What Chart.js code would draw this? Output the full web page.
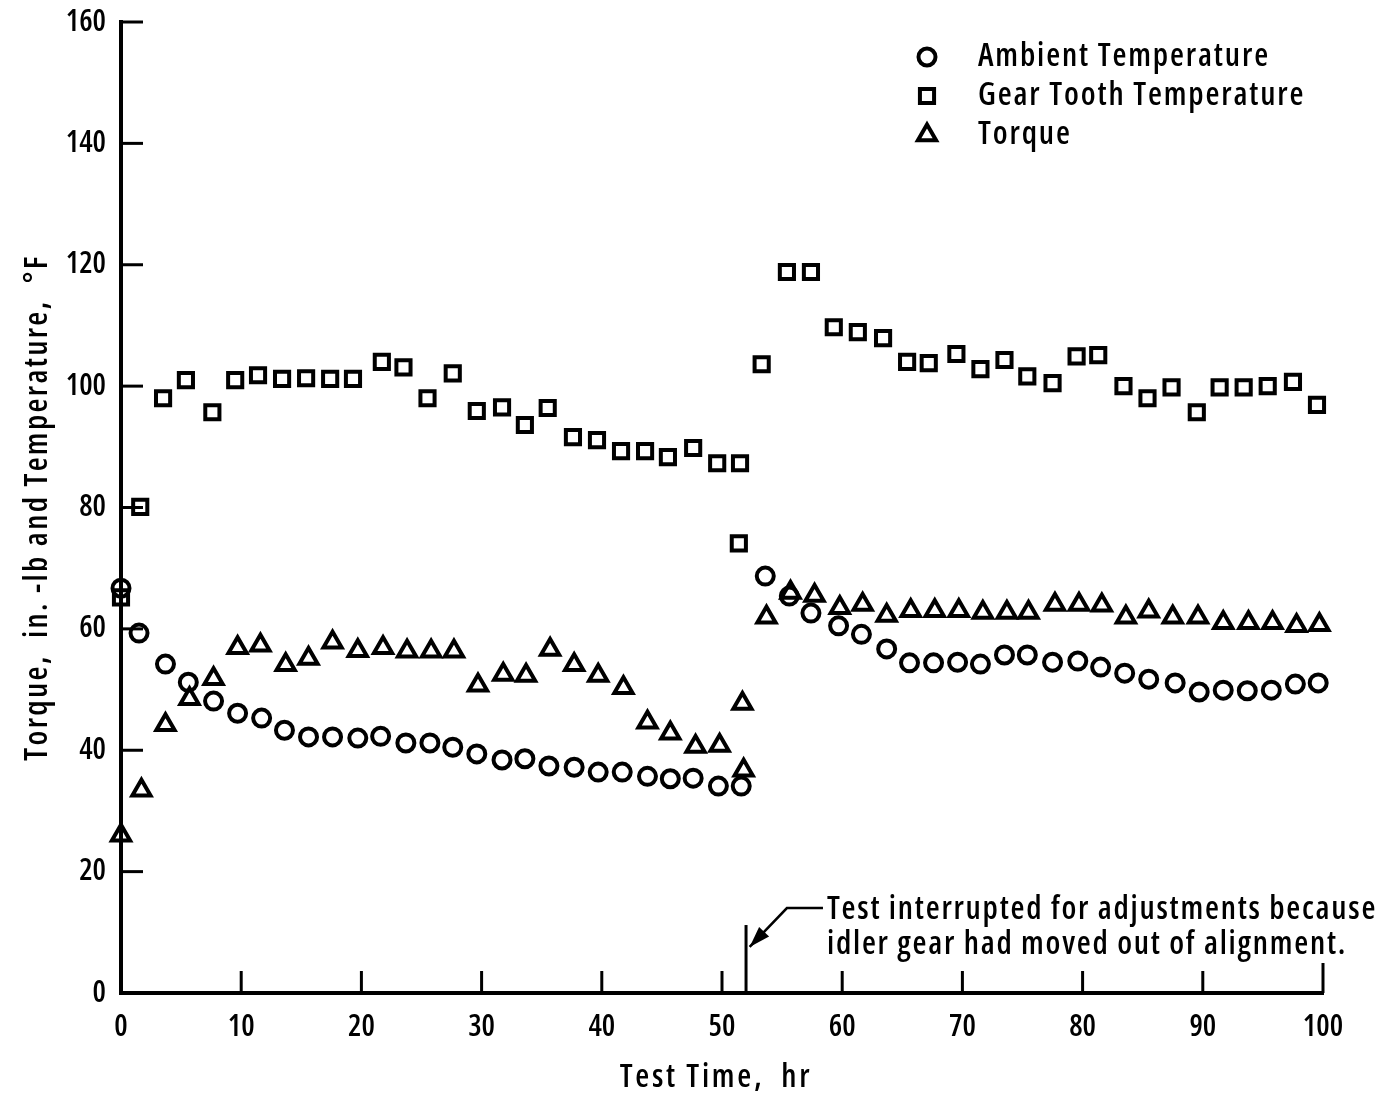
<!DOCTYPE html>
<html>
<head>
<meta charset="utf-8">
<script src="https://cdn.jsdelivr.net/npm/chart.js@4.4.0/dist/chart.umd.min.js"></script>
<style>
  html, body { margin: 0; padding: 0; background: #fff; }
</style>
</head>
<body>
<canvas id="chart" width="1385" height="1099"></canvas>
<script>
// test time, hr and readings for each series
const ambientX = [0, 1.5, 3.7, 5.6, 7.7, 9.7, 11.7, 13.6, 15.6, 17.6, 19.7, 21.6, 23.7, 25.7, 27.6, 29.6, 31.7, 33.6, 35.6, 37.7, 39.7, 41.7, 43.8, 45.7, 47.6, 49.7, 51.6,
                  53.6, 55.6, 57.4, 59.7, 61.6, 63.7, 65.6, 67.6, 69.6, 71.5, 73.5, 75.4, 77.5, 79.6, 81.5, 83.5, 85.5, 87.7, 89.7, 91.7, 93.7, 95.7, 97.7, 99.6];
const ambientY = [66.7, 59.3, 54.2, 51.2, 48.1, 46.1, 45.3, 43.3, 42.2, 42.2, 42.0, 42.3, 41.2, 41.2, 40.5, 39.4, 38.4, 38.6, 37.4, 37.2, 36.4, 36.4, 35.7, 35.3, 35.4, 34.1, 34.1,
                  68.7, 65.4, 62.6, 60.5, 59.1, 56.7, 54.4, 54.4, 54.5, 54.2, 55.7, 55.7, 54.5, 54.7, 53.7, 52.7, 51.7, 51.1, 49.6, 49.9, 49.8, 49.9, 50.9, 51.1];

const gearX = [0, 1.6, 3.5, 5.4, 7.6, 9.5, 11.4, 13.4, 15.4, 17.4, 19.3, 21.7, 23.5, 25.5, 27.6, 29.6, 31.7, 33.6, 35.5, 37.6, 39.6, 41.6, 43.6, 45.5, 47.6, 49.6, 51.5, 51.4,
               53.3, 55.4, 57.4, 59.3, 61.3, 63.4, 65.4, 67.2, 69.5, 71.5, 73.5, 75.4, 77.5, 79.5, 81.3, 83.4, 85.4, 87.4, 89.5, 91.4, 93.4, 95.4, 97.5, 99.5];
const gearY = [65.2, 80.1, 98.0, 101.0, 95.7, 101.0, 101.8, 101.2, 101.3, 101.2, 101.2, 104.0, 103.1, 98.0, 102.1, 95.9, 96.5, 93.6, 96.4, 91.6, 91.1, 89.3, 89.3, 88.3, 89.8, 87.3, 87.3, 74.1,
               103.6, 118.8, 118.8, 109.7, 108.9, 107.9, 104.0, 103.8, 105.3, 102.8, 104.3, 101.6, 100.5, 104.9, 105.1, 100.0, 98.0, 99.8, 95.7, 99.8, 99.8, 100.0, 100.7, 96.9];

const torqueX = [0, 1.7, 3.7, 5.7, 7.7, 9.7, 11.6, 13.7, 15.6, 17.6, 19.7, 21.8, 23.8, 25.8, 27.7, 29.7, 31.8, 33.7, 35.7, 37.7, 39.7, 41.8, 43.8, 45.7, 47.8, 49.8, 51.7, 51.8,
                 53.7, 55.7, 57.7, 59.8, 61.7, 63.7, 65.7, 67.7, 69.7, 71.7, 73.7, 75.5, 77.7, 79.7, 81.6, 83.6, 85.5, 87.5, 89.6, 91.7, 93.8, 95.8, 97.8, 99.7];
const torqueY = [26.0, 33.4, 44.2, 48.5, 51.8, 56.9, 57.3, 54.1, 55.1, 57.8, 56.4, 56.9, 56.3, 56.3, 56.3, 50.7, 52.5, 52.3, 56.6, 54.1, 52.3, 50.3, 44.6, 42.8, 40.6, 40.8, 47.7, 36.7,
                 61.9, 66.0, 65.5, 63.5, 64.0, 62.2, 63.0, 63.0, 63.0, 62.7, 62.7, 62.7, 64.0, 64.0, 63.9, 61.9, 62.9, 61.9, 61.9, 61.0, 61.0, 61.0, 60.5, 60.7];

const seriesNames = ['Ambient Temperature', 'Gear Tooth Temperature', 'Torque'];
const xTicks = [0, 10, 20, 30, 40, 50, 60, 70, 80, 90, 100];
const yTicks = [0, 20, 40, 60, 80, 100, 120, 140, 160];
const xTitle = 'Test Time,  hr';
const yTitle = 'Torque,  in. -lb and Temperature,  °F';
const interruptAt = 52;
const noteLines = ['Test interrupted for adjustments because', 'idler gear had moved out of alignment.'];

const FAMILY = '"Open Sans", "Liberation Sans", sans-serif';
// 'condensed' rides along with the weight so the canvas font string picks the narrow face
const WEIGHT = 'condensed 600';
const TEXTFONT = WEIGHT + ' 32px ' + FAMILY;

function pts(xs, ys) {
    return xs.map((x, i) => ({ x: x, y: ys[i] }));
}

const markerStyles = [
    { pointStyle: 'circle', radius: 8.5 },
    { pointStyle: 'rect', radius: 10 },
    { pointStyle: 'triangle', radius: 10.5 }
];

const whiteBg = {
    id: 'whiteBg',
    beforeDraw(chart) {
        const ctx = chart.ctx;
        ctx.save();
        ctx.fillStyle = '#fff';
        ctx.fillRect(0, 0, chart.width, chart.height);
        ctx.restore();
    }
};

// the lettering on the original is narrow but widely tracked
function spacedText(ctx, text, x, y, spacing) {
    ctx.letterSpacing = spacing + 'px';
    ctx.fillText(text, x, y);
    ctx.letterSpacing = '0px';
}

// tick marks drawn inward from the axes, axis titles, the interruption note and the legend
const extras = {
    id: 'extras',
    afterDraw(chart) {
        const ctx = chart.ctx;
        const xs = chart.scales.x;
        const ys = chart.scales.y;
        const area = chart.chartArea;
        ctx.save();
        ctx.strokeStyle = '#000';
        ctx.fillStyle = '#000';
        ctx.lineWidth = 3;
        ctx.lineCap = 'butt';

        yTicks.forEach(v => {
            if (v === 0) return;
            const y = ys.getPixelForValue(v);
            ctx.beginPath();
            ctx.moveTo(area.left, y);
            ctx.lineTo(area.left + 22, y);
            ctx.stroke();
        });
        xTicks.forEach(v => {
            if (v === 0) return;
            const x = xs.getPixelForValue(v);
            ctx.beginPath();
            ctx.moveTo(x, area.bottom);
            ctx.lineTo(x, area.bottom - (v === 100 ? 30 : 22));
            ctx.stroke();
        });

        // axis titles
        ctx.font = TEXTFONT;
        ctx.textAlign = 'center';
        ctx.textBaseline = 'middle';
        spacedText(ctx, xTitle, (area.left + area.right) / 2 - 6, area.bottom + 85, 2.7);
        ctx.save();
        ctx.translate(38, (area.top + area.bottom) / 2);
        ctx.rotate(-Math.PI / 2);
        spacedText(ctx, yTitle, 0, 0, 2.3);
        ctx.restore();

        // interruption marker
        const xi = xs.getPixelForValue(interruptAt);
        ctx.beginPath();
        ctx.moveTo(xi, area.bottom);
        ctx.lineTo(xi, ys.getPixelForValue(11.2));
        ctx.stroke();

        // leader line with arrow
        const tx = xs.getPixelForValue(58.4);
        const ty = ys.getPixelForValue(14.0);
        const bx = xs.getPixelForValue(55.4);
        const ax = xs.getPixelForValue(52.3);
        const ay = ys.getPixelForValue(7.6);
        ctx.lineWidth = 2.5;
        ctx.beginPath();
        ctx.moveTo(tx, ty);
        ctx.lineTo(bx, ty);
        ctx.lineTo(ax, ay);
        ctx.stroke();
        const ang = Math.atan2(ay - ty, ax - bx);
        const len = 22, half = 0.32;
        ctx.beginPath();
        ctx.moveTo(ax, ay);
        ctx.lineTo(ax - len * Math.cos(ang - half), ay - len * Math.sin(ang - half));
        ctx.lineTo(ax - len * Math.cos(ang + half), ay - len * Math.sin(ang + half));
        ctx.closePath();
        ctx.fill();

        ctx.textAlign = 'left';
        spacedText(ctx, noteLines[0], tx + 4, ty + 2, 1.75);
        spacedText(ctx, noteLines[1], tx + 4, ty + 37, 1.75);

        // legend
        const lx = area.left + 806;
        const tl = area.left + 857;
        const rows = [area.top + 35, area.top + 74, area.top + 113];
        seriesNames.forEach((name, i) => {
            const m = markerStyles[i];
            ctx.lineWidth = 4;
            ctx.fillStyle = 'rgba(0,0,0,0)';
            Chart.helpers.drawPoint(ctx, { pointStyle: m.pointStyle, radius: m.radius, borderWidth: 4, rotation: 0 }, lx, rows[i]);
            ctx.fillStyle = '#000';
            spacedText(ctx, name, tl, rows[i], 1.85);
        });
        ctx.restore();
    }
};

function makeSet(i, data) {
    return {
        label: seriesNames[i],
        data: data,
        showLine: false,
        clip: false,
        pointStyle: markerStyles[i].pointStyle,
        pointRadius: markerStyles[i].radius,
        pointHoverRadius: markerStyles[i].radius,
        pointBorderWidth: 4,
        borderColor: '#000',
        pointBackgroundColor: 'rgba(0,0,0,0)'
    };
}

const tickFont = { family: FAMILY, size: 30, weight: WEIGHT };

new Chart(document.getElementById('chart'), {
    type: 'scatter',
    data: {
        datasets: [
            makeSet(0, pts(ambientX, ambientY)),
            makeSet(1, pts(gearX, gearY)),
            makeSet(2, pts(torqueX, torqueY))
        ]
    },
    options: {
        responsive: false,
        animation: false,
        layout: { padding: { top: 22, right: 62, left: 0, bottom: 0 } },
        plugins: {
            legend: { display: false },
            tooltip: { enabled: false }
        },
        scales: {
            x: {
                type: 'linear',
                min: 0,
                max: 100,
                afterFit(scale) {
                    scale.height = 106;
                    scale.paddingLeft = 0;
                    scale.paddingRight = 0;
                },
                afterBuildTicks(scale) { scale.ticks = xTicks.map(v => ({ value: v })); },
                grid: { display: false, drawTicks: false },
                border: { display: true, color: '#000', width: 4 },
                ticks: { color: '#000', padding: 16, font: tickFont },
                title: { display: false, text: xTitle }
            },
            y: {
                type: 'linear',
                min: 0,
                max: 160,
                afterFit(scale) {
                    scale.width = 121;
                    scale.paddingTop = 0;
                    scale.paddingBottom = 0;
                },
                afterBuildTicks(scale) { scale.ticks = yTicks.map(v => ({ value: v })); },
                grid: { display: false, drawTicks: false },
                border: { display: true, color: '#000', width: 4 },
                ticks: { color: '#000', padding: 15, font: tickFont },
                title: { display: false, text: yTitle }
            }
        }
    },
    plugins: [whiteBg, extras]
});
</script>
</body>
</html>
